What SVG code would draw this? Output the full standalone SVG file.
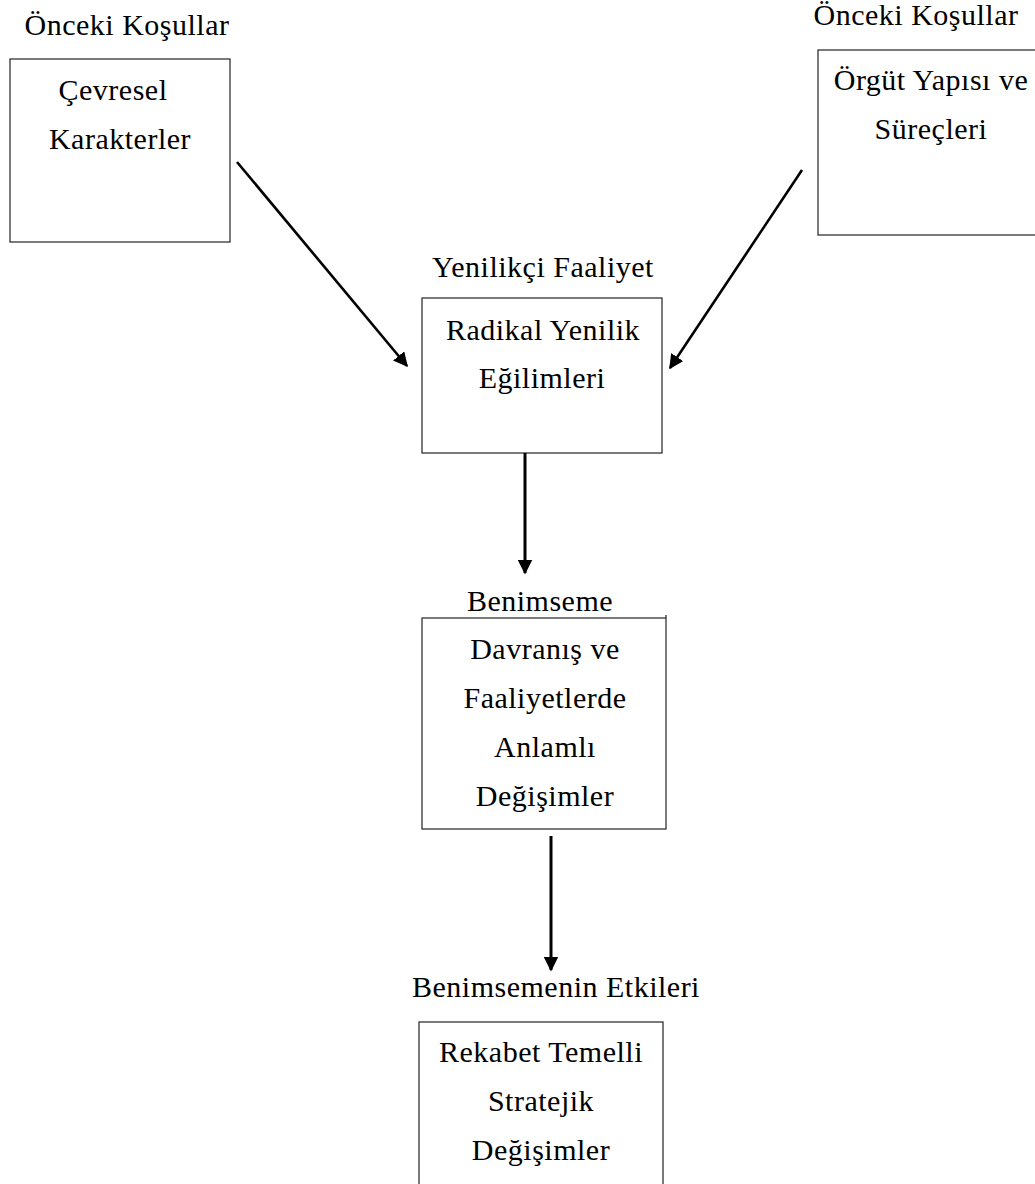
<svg xmlns="http://www.w3.org/2000/svg" width="1035" height="1184" viewBox="0 0 1035 1184">
<style>
text{font-family:"Liberation Serif","Times New Roman",serif;font-size:30px;letter-spacing:0.5px;fill:#000;text-anchor:middle}
.box{fill:#fff;stroke:#333;stroke-width:1.3}
.c{stroke:#000;stroke-width:3;fill:none}
.d{stroke:#000;stroke-width:2.6;fill:none}
</style>
<defs>
<marker id="ah" viewBox="0 0 10 10" refX="9" refY="5" markerWidth="5" markerHeight="5" orient="auto" markerUnits="strokeWidth">
<path d="M0,0 L10,5 L0,10 z" fill="#000"/>
</marker>
<marker id="ah2" viewBox="0 0 10 10" refX="9" refY="5" markerWidth="5.6" markerHeight="5.6" orient="auto" markerUnits="strokeWidth">
<path d="M0,0 L10,5 L0,10 z" fill="#000"/>
</marker>
</defs>
<rect width="1035" height="1184" fill="#fff"/>
<g id="n1">
<text x="127" y="35">Önceki Koşullar</text>
<rect class="box" x="10" y="59" width="220" height="183"/>
<text x="113" y="100">Çevresel</text>
<text x="120" y="149">Karakterler</text>
</g>
<g id="n2">
<text x="916" y="25">Önceki Koşullar</text>
<rect class="box" x="818" y="50" width="230" height="185"/>
<text x="931" y="90">Örgüt Yapısı ve</text>
<text x="931" y="139">Süreçleri</text>
</g>
<g id="n3">
<text x="543" y="277">Yenilikçi Faaliyet</text>
<rect class="box" x="422" y="298" width="240" height="155"/>
<text x="543" y="340">Radikal Yenilik</text>
<text x="542" y="388">Eğilimleri</text>
</g>
<g id="n4">
<text x="540" y="611">Benimseme</text>
<rect class="box" x="422" y="618" width="244" height="211"/>
<line x1="666" y1="615" x2="666" y2="618" stroke="#333" stroke-width="1.3"/>
<text x="545" y="659">Davranış ve</text>
<text x="545" y="708">Faaliyetlerde</text>
<text x="545" y="757">Anlamlı</text>
<text x="545" y="806">Değişimler</text>
</g>
<g id="n5">
<text x="556" y="997">Benimsemenin Etkileri</text>
<rect class="box" x="419" y="1022" width="244" height="180"/>
<text x="541" y="1062">Rekabet Temelli</text>
<text x="541" y="1111">Stratejik</text>
<text x="541" y="1160">Değişimler</text>
</g>
<g id="connectors">
<line class="d" x1="237" y1="162" x2="407" y2="366" marker-end="url(#ah2)"/>
<line class="d" x1="802" y1="170" x2="670" y2="368" marker-end="url(#ah2)"/>
<line class="c" x1="525" y1="453" x2="525" y2="573" marker-end="url(#ah)"/>
<line class="c" x1="551" y1="836" x2="551" y2="970" marker-end="url(#ah)"/>
</g>
</svg>
